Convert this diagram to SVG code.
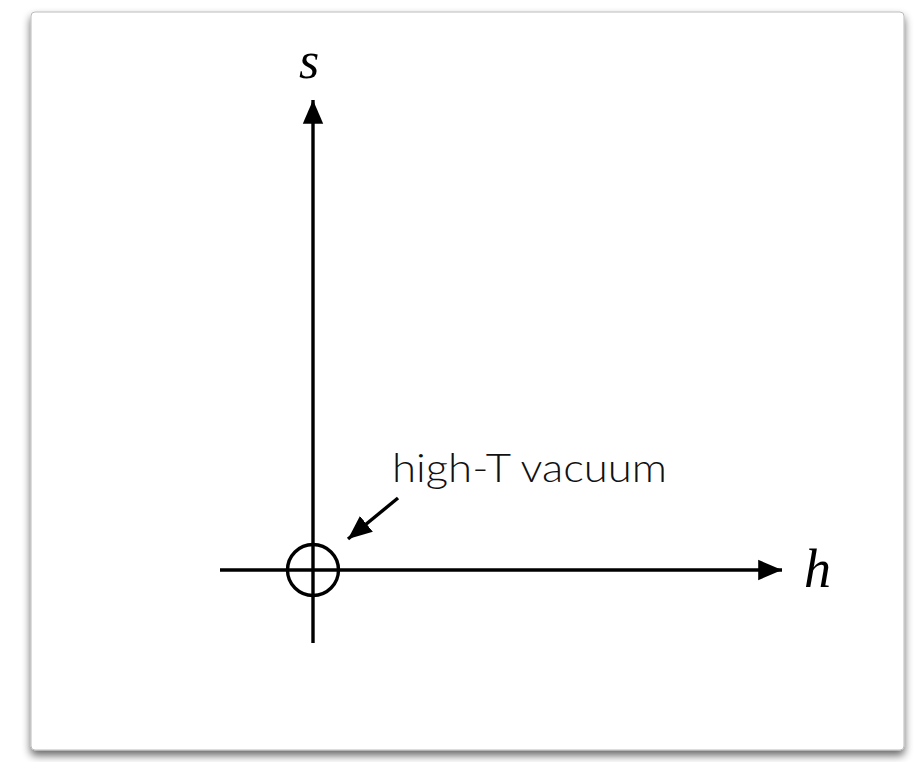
<svg xmlns="http://www.w3.org/2000/svg" width="919" height="762" viewBox="0 0 919 762">
<defs>
<filter id="sh" x="-5%" y="-5%" width="110%" height="115%">
<feGaussianBlur in="SourceAlpha" stdDeviation="4"/>
<feOffset dx="0" dy="5" result="b"/>
<feComponentTransfer><feFuncA type="linear" slope="0.6"/></feComponentTransfer>
<feMerge><feMergeNode/><feMergeNode in="SourceGraphic"/></feMerge>
</filter>
<marker id="ah" markerWidth="8" markerHeight="8" refX="7" refY="4" orient="auto" markerUnits="strokeWidth">
<path d="M0,1 L7,4 L0,7 Z" fill="#000"/>
</marker>
<marker id="sa" markerWidth="8" markerHeight="8" refX="7" refY="4" orient="auto" markerUnits="strokeWidth">
<path d="M0,1 L7,4 L0,7 Z" fill="#000"/>
</marker>
</defs>
<style>
.ax{stroke:#000;stroke-width:3.4;fill:none}
.m{font-family:"Liberation Serif",serif;font-style:italic;fill:#000}
.lbl{font-family:"Lato","Open Sans",sans-serif;font-weight:300;fill:#111}
</style>
<rect width="919" height="762" fill="#fff"/>
<rect x="31" y="12" width="873" height="738" rx="4" fill="#fff" stroke="#bbb" stroke-width="1" filter="url(#sh)"/>
<g id="connectors">
<line class="ax" x1="313" y1="643" x2="313" y2="100" marker-end="url(#ah)"/>
<line class="ax" x1="220" y1="570" x2="782" y2="570" marker-end="url(#ah)"/>
<line class="ax" x1="398" y1="498" x2="348" y2="539" marker-end="url(#sa)"/>
</g>
<g id="vacuum">
<circle class="ax" cx="313" cy="570" r="25.5"/>
</g>
<g id="label-s"><text class="m" x="299" y="78" font-size="52">s</text></g>
<g id="label-h"><text class="m" x="804" y="587" font-size="54">h</text></g>
<g id="label-vacuum"><text class="lbl" x="392" y="482" font-size="39" textLength="275" lengthAdjust="spacingAndGlyphs">high-T vacuum</text></g>
</svg>
